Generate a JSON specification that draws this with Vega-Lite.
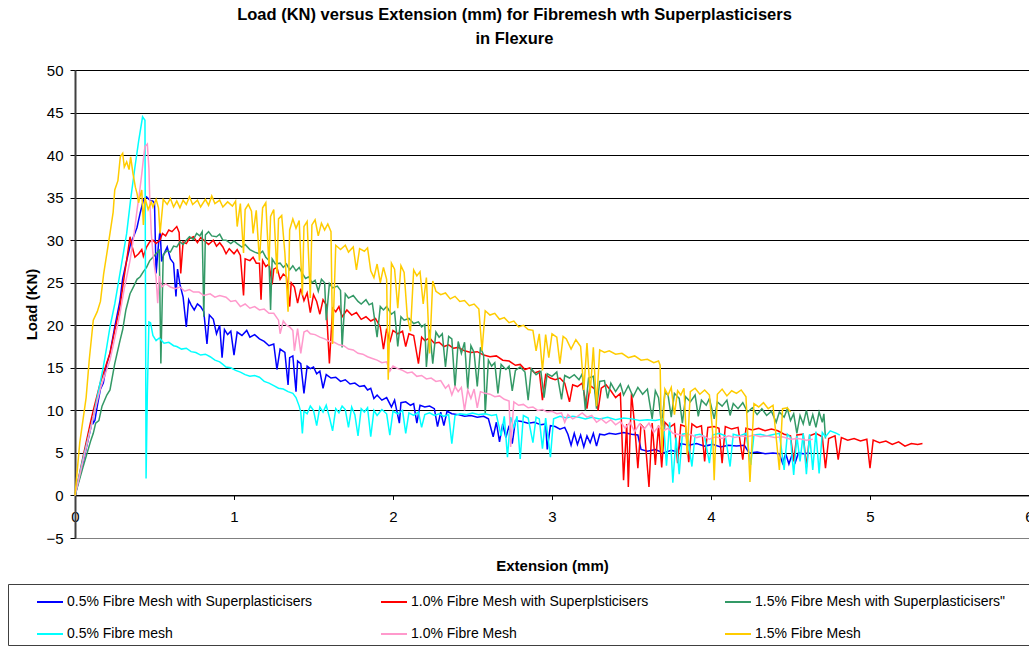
{
"$schema":"https://vega.github.io/schema/vega-lite/v6.json",
"width":954,"height":468,
"autosize":{"type":"none"},
"padding":{"left":75,"top":70,"right":0,"bottom":109},
"background":"white",
"config":{"view":{"stroke":"#808080","strokeWidth":1},"font":"Liberation Sans"},
"title":{"text":["Load (KN) versus Extension (mm) for Fibremesh wth Superplasticisers","in Flexure"],"font":"Liberation Sans","fontSize":16.5,"fontWeight":"bold","color":"#000","anchor":"middle","dx":-37.5,"offset":16,"lineHeight":24},
"data":{"values":[
{"s":"a","x":0,"y":0},{"s":"a","x":0.05,"y":3.8},{"s":"a","x":0.1,"y":8},{"s":"a","x":0.11,"y":9.2},{"s":"a","x":0.115,"y":8.5},{"s":"a","x":0.125,"y":8.8},{"s":"a","x":0.14,"y":10.5},{"s":"a","x":0.16,"y":12.5},{"s":"a","x":0.178,"y":13.2},{"s":"a","x":0.2,"y":15.5},{"s":"a","x":0.22,"y":16.7},{"s":"a","x":0.25,"y":19.8},{"s":"a","x":0.283,"y":22.9},{"s":"a","x":0.3,"y":25.5},{"s":"a","x":0.325,"y":27.6},{"s":"a","x":0.35,"y":29.6},{"s":"a","x":0.37,"y":30.5},{"s":"a","x":0.39,"y":31.5},{"s":"a","x":0.41,"y":33.2},{"s":"a","x":0.43,"y":34.7},{"s":"a","x":0.45,"y":35.1},{"s":"a","x":0.47,"y":34.7},{"s":"a","x":0.49,"y":34.6},{"s":"a","x":0.5,"y":34.3},{"s":"a","x":0.51,"y":26.1},{"s":"a","x":0.525,"y":29.5},{"s":"a","x":0.535,"y":31.2},{"s":"a","x":0.545,"y":27.5},{"s":"a","x":0.56,"y":28.4},{"s":"a","x":0.58,"y":29.2},{"s":"a","x":0.6,"y":27.8},{"s":"a","x":0.62,"y":27.3},{"s":"a","x":0.635,"y":23.4},{"s":"a","x":0.645,"y":26.6},{"s":"a","x":0.66,"y":24.8},{"s":"a","x":0.68,"y":23.3},{"s":"a","x":0.7,"y":19.8},{"s":"a","x":0.715,"y":23},{"s":"a","x":0.73,"y":22.4},{"s":"a","x":0.75,"y":21.8},{"s":"a","x":0.77,"y":22.5},{"s":"a","x":0.79,"y":22.2},{"s":"a","x":0.81,"y":21.6},{"s":"a","x":0.83,"y":17.8},{"s":"a","x":0.845,"y":21.2},{"s":"a","x":0.87,"y":20.7},{"s":"a","x":0.89,"y":19},{"s":"a","x":0.91,"y":20},{"s":"a","x":0.925,"y":16.2},{"s":"a","x":0.94,"y":19.5},{"s":"a","x":0.96,"y":18.9},{"s":"a","x":0.98,"y":19.3},{"s":"a","x":1,"y":16.5},{"s":"a","x":1.02,"y":19.2},{"s":"a","x":1.05,"y":18.8},{"s":"a","x":1.08,"y":19.4},{"s":"a","x":1.1,"y":18.6},{"s":"a","x":1.13,"y":18.9},{"s":"a","x":1.16,"y":18.4},{"s":"a","x":1.19,"y":18.1},{"s":"a","x":1.22,"y":17.6},{"s":"a","x":1.25,"y":17.8},{"s":"a","x":1.27,"y":14.8},{"s":"a","x":1.29,"y":17.2},{"s":"a","x":1.32,"y":16.8},{"s":"a","x":1.34,"y":13},{"s":"a","x":1.35,"y":16.2},{"s":"a","x":1.37,"y":16.4},{"s":"a","x":1.39,"y":12.2},{"s":"a","x":1.4,"y":15.8},{"s":"a","x":1.42,"y":15.5},{"s":"a","x":1.44,"y":12},{"s":"a","x":1.46,"y":15.2},{"s":"a","x":1.48,"y":14.9},{"s":"a","x":1.5,"y":15.1},{"s":"a","x":1.52,"y":14.3},{"s":"a","x":1.54,"y":14.6},{"s":"a","x":1.56,"y":12.6},{"s":"a","x":1.58,"y":14.2},{"s":"a","x":1.61,"y":13.8},{"s":"a","x":1.64,"y":13.9},{"s":"a","x":1.67,"y":13.4},{"s":"a","x":1.7,"y":13.6},{"s":"a","x":1.73,"y":13.1},{"s":"a","x":1.76,"y":13.2},{"s":"a","x":1.79,"y":12.8},{"s":"a","x":1.82,"y":12.9},{"s":"a","x":1.84,"y":12.4},{"s":"a","x":1.86,"y":12.6},{"s":"a","x":1.88,"y":11.4},{"s":"a","x":1.9,"y":11.8},{"s":"a","x":1.93,"y":11.2},{"s":"a","x":1.96,"y":11.5},{"s":"a","x":1.99,"y":10.4},{"s":"a","x":2.01,"y":11.2},{"s":"a","x":2.04,"y":8.5},{"s":"a","x":2.05,"y":10.9},{"s":"a","x":2.08,"y":11},{"s":"a","x":2.11,"y":10.6},{"s":"a","x":2.13,"y":10.8},{"s":"a","x":2.15,"y":8.5},{"s":"a","x":2.17,"y":10.6},{"s":"a","x":2.2,"y":10.4},{"s":"a","x":2.23,"y":10.5},{"s":"a","x":2.26,"y":10.2},{"s":"a","x":2.28,"y":8.1},{"s":"a","x":2.3,"y":9.8},{"s":"a","x":2.32,"y":8.2},{"s":"a","x":2.34,"y":9.9},{"s":"a","x":2.37,"y":9.6},{"s":"a","x":2.41,"y":9.5},{"s":"a","x":2.45,"y":9.3},{"s":"a","x":2.49,"y":9.4},{"s":"a","x":2.53,"y":9.2},{"s":"a","x":2.57,"y":9.3},{"s":"a","x":2.6,"y":9},{"s":"a","x":2.63,"y":6.9},{"s":"a","x":2.65,"y":8.6},{"s":"a","x":2.67,"y":6.3},{"s":"a","x":2.69,"y":8.4},{"s":"a","x":2.71,"y":6.8},{"s":"a","x":2.73,"y":8.2},{"s":"a","x":2.75,"y":6.1},{"s":"a","x":2.77,"y":8.8},{"s":"a","x":2.81,"y":8.7},{"s":"a","x":2.85,"y":8.5},{"s":"a","x":2.89,"y":8.6},{"s":"a","x":2.93,"y":8.3},{"s":"a","x":2.96,"y":8.4},{"s":"a","x":2.97,"y":5.4},{"s":"a","x":2.99,"y":8.2},{"s":"a","x":3.02,"y":8.1},{"s":"a","x":3.05,"y":7.8},{"s":"a","x":3.08,"y":8},{"s":"a","x":3.1,"y":7.2},{"s":"a","x":3.12,"y":5.9},{"s":"a","x":3.14,"y":7.3},{"s":"a","x":3.16,"y":6},{"s":"a","x":3.18,"y":7.1},{"s":"a","x":3.2,"y":5.7},{"s":"a","x":3.22,"y":7},{"s":"a","x":3.24,"y":6.2},{"s":"a","x":3.26,"y":7.3},{"s":"a","x":3.28,"y":5.8},{"s":"a","x":3.3,"y":7.2},{"s":"a","x":3.33,"y":7.1},{"s":"a","x":3.36,"y":7.3},{"s":"a","x":3.4,"y":7.2},{"s":"a","x":3.45,"y":7.4},{"s":"a","x":3.5,"y":7.2},{"s":"a","x":3.54,"y":7.1},{"s":"a","x":3.56,"y":5.4},{"s":"a","x":3.6,"y":5.2},{"s":"a","x":3.65,"y":5.4},{"s":"a","x":3.7,"y":5},{"s":"a","x":3.75,"y":5.3},{"s":"a","x":3.79,"y":5.1},{"s":"a","x":3.81,"y":6.1},{"s":"a","x":3.86,"y":5.9},{"s":"a","x":3.91,"y":6.1},{"s":"a","x":3.96,"y":5.8},{"s":"a","x":4.01,"y":6},{"s":"a","x":4.06,"y":5.7},{"s":"a","x":4.11,"y":5.9},{"s":"a","x":4.16,"y":5.8},{"s":"a","x":4.21,"y":5.9},{"s":"a","x":4.24,"y":5},{"s":"a","x":4.29,"y":5.1},{"s":"a","x":4.34,"y":4.9},{"s":"a","x":4.39,"y":5},{"s":"a","x":4.43,"y":4.9},{"s":"a","x":4.45,"y":3.8},{"s":"a","x":4.47,"y":4.9},{"s":"a","x":4.49,"y":3.7},{"s":"a","x":4.51,"y":4.8},{"s":"a","x":4.53,"y":3.9},{"s":"a","x":4.55,"y":5},{"s":"a","x":4.58,"y":4.9},{"s":"a","x":4.62,"y":5},
{"s":"b","x":0,"y":0},{"s":"b","x":0.05,"y":4.5},{"s":"b","x":0.1,"y":8.8},{"s":"b","x":0.115,"y":10},{"s":"b","x":0.16,"y":13.3},{"s":"b","x":0.22,"y":16.7},{"s":"b","x":0.25,"y":19.4},{"s":"b","x":0.283,"y":22.2},{"s":"b","x":0.31,"y":25.8},{"s":"b","x":0.33,"y":28.3},{"s":"b","x":0.346,"y":30.4},{"s":"b","x":0.36,"y":29.2},{"s":"b","x":0.377,"y":28},{"s":"b","x":0.4,"y":28.4},{"s":"b","x":0.42,"y":28.9},{"s":"b","x":0.43,"y":28.1},{"s":"b","x":0.45,"y":29.2},{"s":"b","x":0.47,"y":29.8},{"s":"b","x":0.49,"y":30},{"s":"b","x":0.51,"y":29.6},{"s":"b","x":0.535,"y":30},{"s":"b","x":0.55,"y":30.8},{"s":"b","x":0.57,"y":30.5},{"s":"b","x":0.59,"y":31.2},{"s":"b","x":0.61,"y":31},{"s":"b","x":0.64,"y":31.6},{"s":"b","x":0.655,"y":30.9},{"s":"b","x":0.665,"y":26.1},{"s":"b","x":0.68,"y":29.8},{"s":"b","x":0.7,"y":29.6},{"s":"b","x":0.72,"y":30.2},{"s":"b","x":0.745,"y":30.4},{"s":"b","x":0.77,"y":29.7},{"s":"b","x":0.79,"y":30.3},{"s":"b","x":0.81,"y":30},{"s":"b","x":0.84,"y":29.5},{"s":"b","x":0.87,"y":30},{"s":"b","x":0.89,"y":29.3},{"s":"b","x":0.91,"y":29.7},{"s":"b","x":0.93,"y":29.2},{"s":"b","x":0.95,"y":28.4},{"s":"b","x":0.97,"y":29},{"s":"b","x":1,"y":28.4},{"s":"b","x":1.02,"y":28.9},{"s":"b","x":1.04,"y":28.2},{"s":"b","x":1.06,"y":23.5},{"s":"b","x":1.07,"y":27.8},{"s":"b","x":1.1,"y":27.6},{"s":"b","x":1.12,"y":28},{"s":"b","x":1.14,"y":27.3},{"s":"b","x":1.16,"y":27.3},{"s":"b","x":1.17,"y":23},{"s":"b","x":1.18,"y":27.6},{"s":"b","x":1.2,"y":26.9},{"s":"b","x":1.22,"y":27.2},{"s":"b","x":1.24,"y":24.8},{"s":"b","x":1.25,"y":26.6},{"s":"b","x":1.27,"y":26.8},{"s":"b","x":1.29,"y":25.4},{"s":"b","x":1.31,"y":26},{"s":"b","x":1.33,"y":25.7},{"s":"b","x":1.35,"y":22.2},{"s":"b","x":1.36,"y":25},{"s":"b","x":1.38,"y":24.5},{"s":"b","x":1.4,"y":22.6},{"s":"b","x":1.42,"y":24.3},{"s":"b","x":1.44,"y":22.9},{"s":"b","x":1.46,"y":23.8},{"s":"b","x":1.48,"y":21.5},{"s":"b","x":1.5,"y":23.6},{"s":"b","x":1.52,"y":22.8},{"s":"b","x":1.54,"y":21.3},{"s":"b","x":1.56,"y":23},{"s":"b","x":1.58,"y":22.4},{"s":"b","x":1.6,"y":15.5},{"s":"b","x":1.62,"y":22},{"s":"b","x":1.64,"y":21.6},{"s":"b","x":1.66,"y":22.2},{"s":"b","x":1.68,"y":21},{"s":"b","x":1.71,"y":21.8},{"s":"b","x":1.74,"y":21.2},{"s":"b","x":1.77,"y":21.5},{"s":"b","x":1.8,"y":20.7},{"s":"b","x":1.83,"y":21},{"s":"b","x":1.86,"y":20.5},{"s":"b","x":1.89,"y":20.8},{"s":"b","x":1.92,"y":19.8},{"s":"b","x":1.94,"y":17.2},{"s":"b","x":1.96,"y":19.6},{"s":"b","x":1.98,"y":18},{"s":"b","x":2,"y":19.4},{"s":"b","x":2.03,"y":19},{"s":"b","x":2.06,"y":19.3},{"s":"b","x":2.08,"y":17.5},{"s":"b","x":2.1,"y":19},{"s":"b","x":2.13,"y":18.8},{"s":"b","x":2.16,"y":15.5},{"s":"b","x":2.18,"y":18.6},{"s":"b","x":2.2,"y":18.2},{"s":"b","x":2.23,"y":18.5},{"s":"b","x":2.26,"y":17.9},{"s":"b","x":2.29,"y":18},{"s":"b","x":2.32,"y":17.5},{"s":"b","x":2.35,"y":17.7},{"s":"b","x":2.38,"y":17.3},{"s":"b","x":2.41,"y":17.4},{"s":"b","x":2.45,"y":17},{"s":"b","x":2.49,"y":16.8},{"s":"b","x":2.53,"y":16.9},{"s":"b","x":2.57,"y":16.5},{"s":"b","x":2.61,"y":16.3},{"s":"b","x":2.65,"y":16.4},{"s":"b","x":2.69,"y":15.9},{"s":"b","x":2.73,"y":15.8},{"s":"b","x":2.77,"y":15.3},{"s":"b","x":2.8,"y":15.4},{"s":"b","x":2.83,"y":14.8},{"s":"b","x":2.86,"y":15},{"s":"b","x":2.89,"y":14.4},{"s":"b","x":2.92,"y":14.6},{"s":"b","x":2.94,"y":11.2},{"s":"b","x":2.96,"y":14.2},{"s":"b","x":2.99,"y":13.8},{"s":"b","x":3.02,"y":13.6},{"s":"b","x":3.05,"y":13.8},{"s":"b","x":3.08,"y":13.2},{"s":"b","x":3.11,"y":11},{"s":"b","x":3.13,"y":13},{"s":"b","x":3.16,"y":12.8},{"s":"b","x":3.19,"y":13.2},{"s":"b","x":3.22,"y":10.2},{"s":"b","x":3.24,"y":12.9},{"s":"b","x":3.27,"y":12.5},{"s":"b","x":3.29,"y":10},{"s":"b","x":3.31,"y":12.6},{"s":"b","x":3.34,"y":13},{"s":"b","x":3.37,"y":12.3},{"s":"b","x":3.4,"y":11.5},{"s":"b","x":3.43,"y":12},{"s":"b","x":3.45,"y":1.8},{"s":"b","x":3.47,"y":8.4},{"s":"b","x":3.48,"y":1},{"s":"b","x":3.5,"y":12},{"s":"b","x":3.52,"y":8.2},{"s":"b","x":3.54,"y":3.2},{"s":"b","x":3.56,"y":8.3},{"s":"b","x":3.58,"y":7.9},{"s":"b","x":3.61,"y":1},{"s":"b","x":3.63,"y":8.5},{"s":"b","x":3.65,"y":3.6},{"s":"b","x":3.67,"y":8.2},{"s":"b","x":3.69,"y":3.3},{"s":"b","x":3.71,"y":8.6},{"s":"b","x":3.74,"y":8},{"s":"b","x":3.77,"y":8.4},{"s":"b","x":3.79,"y":3.8},{"s":"b","x":3.81,"y":8.3},{"s":"b","x":3.84,"y":8.1},{"s":"b","x":3.86,"y":3.9},{"s":"b","x":3.88,"y":8.4},{"s":"b","x":3.91,"y":8},{"s":"b","x":3.94,"y":8.2},{"s":"b","x":3.96,"y":4},{"s":"b","x":3.98,"y":8},{"s":"b","x":4.02,"y":8.1},{"s":"b","x":4.05,"y":7.9},{"s":"b","x":4.07,"y":3.8},{"s":"b","x":4.09,"y":8.1},{"s":"b","x":4.13,"y":7.8},{"s":"b","x":4.17,"y":8},{"s":"b","x":4.2,"y":4.2},{"s":"b","x":4.22,"y":7.9},{"s":"b","x":4.26,"y":7.7},{"s":"b","x":4.3,"y":7.9},{"s":"b","x":4.34,"y":7.6},{"s":"b","x":4.38,"y":7.8},{"s":"b","x":4.42,"y":7.6},{"s":"b","x":4.46,"y":7.2},{"s":"b","x":4.5,"y":7},{"s":"b","x":4.52,"y":4},{"s":"b","x":4.54,"y":7.1},{"s":"b","x":4.58,"y":7.2},{"s":"b","x":4.6,"y":3.3},{"s":"b","x":4.62,"y":7},{"s":"b","x":4.66,"y":7.3},{"s":"b","x":4.7,"y":6.9},{"s":"b","x":4.72,"y":3.2},{"s":"b","x":4.74,"y":6.7},{"s":"b","x":4.78,"y":7},{"s":"b","x":4.8,"y":4.2},{"s":"b","x":4.82,"y":6.8},{"s":"b","x":4.86,"y":6.5},{"s":"b","x":4.9,"y":6.7},{"s":"b","x":4.94,"y":6.4},{"s":"b","x":4.98,"y":6.6},{"s":"b","x":5,"y":3.2},{"s":"b","x":5.02,"y":6.5},{"s":"b","x":5.06,"y":6.2},{"s":"b","x":5.1,"y":6.4},{"s":"b","x":5.14,"y":6},{"s":"b","x":5.18,"y":6.3},{"s":"b","x":5.22,"y":5.8},{"s":"b","x":5.26,"y":6.1},{"s":"b","x":5.3,"y":6},{"s":"b","x":5.33,"y":6.1},
{"s":"c","x":0,"y":0},{"s":"c","x":0.05,"y":3.3},{"s":"c","x":0.1,"y":6.5},{"s":"c","x":0.115,"y":7.3},{"s":"c","x":0.13,"y":8.5},{"s":"c","x":0.15,"y":8.8},{"s":"c","x":0.17,"y":10.5},{"s":"c","x":0.2,"y":11.8},{"s":"c","x":0.22,"y":12.4},{"s":"c","x":0.25,"y":15.5},{"s":"c","x":0.283,"y":18.2},{"s":"c","x":0.3,"y":19.5},{"s":"c","x":0.32,"y":21.8},{"s":"c","x":0.346,"y":23.7},{"s":"c","x":0.37,"y":24.6},{"s":"c","x":0.39,"y":25.4},{"s":"c","x":0.41,"y":25.7},{"s":"c","x":0.43,"y":26.3},{"s":"c","x":0.45,"y":26.8},{"s":"c","x":0.47,"y":27.6},{"s":"c","x":0.49,"y":28},{"s":"c","x":0.51,"y":28.4},{"s":"c","x":0.53,"y":28.8},{"s":"c","x":0.54,"y":15.5},{"s":"c","x":0.555,"y":28.3},{"s":"c","x":0.58,"y":28.8},{"s":"c","x":0.6,"y":28.6},{"s":"c","x":0.62,"y":29.3},{"s":"c","x":0.64,"y":29.2},{"s":"c","x":0.66,"y":29.8},{"s":"c","x":0.68,"y":29.5},{"s":"c","x":0.7,"y":30},{"s":"c","x":0.72,"y":30.4},{"s":"c","x":0.745,"y":30.1},{"s":"c","x":0.765,"y":30.8},{"s":"c","x":0.785,"y":30.5},{"s":"c","x":0.8,"y":31},{"s":"c","x":0.81,"y":21},{"s":"c","x":0.82,"y":30.6},{"s":"c","x":0.84,"y":31},{"s":"c","x":0.86,"y":30.5},{"s":"c","x":0.89,"y":30.4},{"s":"c","x":0.91,"y":30.7},{"s":"c","x":0.93,"y":30},{"s":"c","x":0.95,"y":30},{"s":"c","x":0.98,"y":29.6},{"s":"c","x":1,"y":29.9},{"s":"c","x":1.02,"y":29.6},{"s":"c","x":1.05,"y":29.2},{"s":"c","x":1.07,"y":29.5},{"s":"c","x":1.1,"y":28.9},{"s":"c","x":1.13,"y":28.6},{"s":"c","x":1.16,"y":28.4},{"s":"c","x":1.18,"y":28.7},{"s":"c","x":1.2,"y":28},{"s":"c","x":1.22,"y":27.6},{"s":"c","x":1.23,"y":21.8},{"s":"c","x":1.24,"y":27.8},{"s":"c","x":1.26,"y":27.2},{"s":"c","x":1.29,"y":27.3},{"s":"c","x":1.31,"y":26.8},{"s":"c","x":1.33,"y":27.2},{"s":"c","x":1.35,"y":26.5},{"s":"c","x":1.37,"y":27},{"s":"c","x":1.39,"y":26.4},{"s":"c","x":1.41,"y":26.8},{"s":"c","x":1.43,"y":26.1},{"s":"c","x":1.45,"y":25.5},{"s":"c","x":1.47,"y":25.7},{"s":"c","x":1.49,"y":25},{"s":"c","x":1.51,"y":25.3},{"s":"c","x":1.53,"y":24},{"s":"c","x":1.55,"y":25.4},{"s":"c","x":1.57,"y":25},{"s":"c","x":1.58,"y":20.6},{"s":"c","x":1.6,"y":24.9},{"s":"c","x":1.62,"y":24.4},{"s":"c","x":1.65,"y":24.6},{"s":"c","x":1.67,"y":24.1},{"s":"c","x":1.68,"y":17.4},{"s":"c","x":1.7,"y":23.7},{"s":"c","x":1.72,"y":23.2},{"s":"c","x":1.75,"y":23.5},{"s":"c","x":1.78,"y":22.8},{"s":"c","x":1.8,"y":22.5},{"s":"c","x":1.83,"y":23},{"s":"c","x":1.85,"y":22.4},{"s":"c","x":1.87,"y":22.6},{"s":"c","x":1.9,"y":18.6},{"s":"c","x":1.92,"y":22.2},{"s":"c","x":1.94,"y":21.8},{"s":"c","x":1.96,"y":22.2},{"s":"c","x":1.99,"y":21.3},{"s":"c","x":2.01,"y":21.6},{"s":"c","x":2.03,"y":17.5},{"s":"c","x":2.05,"y":21},{"s":"c","x":2.07,"y":20.6},{"s":"c","x":2.1,"y":20.8},{"s":"c","x":2.13,"y":20.2},{"s":"c","x":2.16,"y":20.4},{"s":"c","x":2.18,"y":19.8},{"s":"c","x":2.2,"y":20.1},{"s":"c","x":2.21,"y":15.1},{"s":"c","x":2.23,"y":19.5},{"s":"c","x":2.25,"y":15.5},{"s":"c","x":2.27,"y":19.2},{"s":"c","x":2.29,"y":18.6},{"s":"c","x":2.31,"y":19},{"s":"c","x":2.33,"y":15.1},{"s":"c","x":2.35,"y":18.7},{"s":"c","x":2.37,"y":18.4},{"s":"c","x":2.39,"y":12.7},{"s":"c","x":2.41,"y":18.1},{"s":"c","x":2.43,"y":16.7},{"s":"c","x":2.45,"y":18},{"s":"c","x":2.47,"y":12.5},{"s":"c","x":2.49,"y":17.6},{"s":"c","x":2.51,"y":16.8},{"s":"c","x":2.53,"y":12.8},{"s":"c","x":2.55,"y":17.4},{"s":"c","x":2.57,"y":16.5},{"s":"c","x":2.58,"y":9.6},{"s":"c","x":2.6,"y":15.9},{"s":"c","x":2.62,"y":15.2},{"s":"c","x":2.64,"y":15.6},{"s":"c","x":2.66,"y":12},{"s":"c","x":2.68,"y":15.4},{"s":"c","x":2.71,"y":14.8},{"s":"c","x":2.73,"y":15.2},{"s":"c","x":2.75,"y":12.3},{"s":"c","x":2.77,"y":14.7},{"s":"c","x":2.8,"y":15.1},{"s":"c","x":2.83,"y":14.5},{"s":"c","x":2.85,"y":11.2},{"s":"c","x":2.87,"y":14.9},{"s":"c","x":2.9,"y":14.2},{"s":"c","x":2.93,"y":14.6},{"s":"c","x":2.95,"y":11.5},{"s":"c","x":2.97,"y":14.3},{"s":"c","x":3,"y":14},{"s":"c","x":3.03,"y":14.5},{"s":"c","x":3.06,"y":11.3},{"s":"c","x":3.08,"y":14.1},{"s":"c","x":3.11,"y":13.8},{"s":"c","x":3.14,"y":14.2},{"s":"c","x":3.17,"y":13.6},{"s":"c","x":3.19,"y":14.3},{"s":"c","x":3.21,"y":10},{"s":"c","x":3.23,"y":13.8},{"s":"c","x":3.26,"y":14},{"s":"c","x":3.28,"y":10.2},{"s":"c","x":3.3,"y":13.4},{"s":"c","x":3.33,"y":13.5},{"s":"c","x":3.35,"y":11.4},{"s":"c","x":3.37,"y":13.2},{"s":"c","x":3.4,"y":12.2},{"s":"c","x":3.43,"y":13.1},{"s":"c","x":3.45,"y":11.8},{"s":"c","x":3.48,"y":12.9},{"s":"c","x":3.51,"y":11.6},{"s":"c","x":3.54,"y":12.7},{"s":"c","x":3.57,"y":11.9},{"s":"c","x":3.6,"y":12.5},{"s":"c","x":3.63,"y":9},{"s":"c","x":3.65,"y":12.3},{"s":"c","x":3.67,"y":11.5},{"s":"c","x":3.69,"y":8.1},{"s":"c","x":3.71,"y":12.1},{"s":"c","x":3.73,"y":11.8},{"s":"c","x":3.75,"y":9.2},{"s":"c","x":3.77,"y":12},{"s":"c","x":3.8,"y":11.4},{"s":"c","x":3.82,"y":8.5},{"s":"c","x":3.84,"y":11.6},{"s":"c","x":3.87,"y":11},{"s":"c","x":3.9,"y":11.8},{"s":"c","x":3.92,"y":9.3},{"s":"c","x":3.94,"y":11.2},{"s":"c","x":3.97,"y":10.6},{"s":"c","x":3.99,"y":11.4},{"s":"c","x":4.02,"y":9},{"s":"c","x":4.04,"y":11},{"s":"c","x":4.07,"y":10.5},{"s":"c","x":4.1,"y":11.2},{"s":"c","x":4.12,"y":9.4},{"s":"c","x":4.14,"y":10.8},{"s":"c","x":4.17,"y":10.2},{"s":"c","x":4.2,"y":10.9},{"s":"c","x":4.23,"y":9.8},{"s":"c","x":4.26,"y":10.3},{"s":"c","x":4.29,"y":9.5},{"s":"c","x":4.32,"y":10.2},{"s":"c","x":4.35,"y":9.4},{"s":"c","x":4.38,"y":9.9},{"s":"c","x":4.41,"y":8.6},{"s":"c","x":4.43,"y":9.8},{"s":"c","x":4.46,"y":9.2},{"s":"c","x":4.48,"y":10.2},{"s":"c","x":4.5,"y":8.8},{"s":"c","x":4.52,"y":9.6},{"s":"c","x":4.54,"y":7.3},{"s":"c","x":4.56,"y":9.4},{"s":"c","x":4.58,"y":8.4},{"s":"c","x":4.6,"y":10},{"s":"c","x":4.62,"y":8.2},{"s":"c","x":4.64,"y":9.5},{"s":"c","x":4.66,"y":8},{"s":"c","x":4.68,"y":9.8},{"s":"c","x":4.7,"y":8.6},{"s":"c","x":4.71,"y":9.6},{"s":"c","x":4.72,"y":6.7},
{"s":"d","x":0,"y":0},{"s":"d","x":0.05,"y":4.3},{"s":"d","x":0.115,"y":9.2},{"s":"d","x":0.15,"y":12.5},{"s":"d","x":0.178,"y":15.1},{"s":"d","x":0.2,"y":17.5},{"s":"d","x":0.22,"y":19.8},{"s":"d","x":0.25,"y":22.5},{"s":"d","x":0.272,"y":24.9},{"s":"d","x":0.3,"y":28},{"s":"d","x":0.325,"y":30.8},{"s":"d","x":0.35,"y":34.8},{"s":"d","x":0.377,"y":38.6},{"s":"d","x":0.4,"y":41.6},{"s":"d","x":0.425,"y":44.5},{"s":"d","x":0.44,"y":44.1},{"s":"d","x":0.447,"y":2},{"s":"d","x":0.455,"y":12},{"s":"d","x":0.465,"y":20.4},{"s":"d","x":0.475,"y":20.3},{"s":"d","x":0.49,"y":18.8},{"s":"d","x":0.51,"y":18.2},{"s":"d","x":0.53,"y":18.5},{"s":"d","x":0.56,"y":17.9},{"s":"d","x":0.59,"y":18},{"s":"d","x":0.62,"y":17.6},{"s":"d","x":0.64,"y":17.5},{"s":"d","x":0.67,"y":17.2},{"s":"d","x":0.7,"y":17.3},{"s":"d","x":0.73,"y":16.9},{"s":"d","x":0.76,"y":16.8},{"s":"d","x":0.79,"y":16.5},{"s":"d","x":0.82,"y":16.6},{"s":"d","x":0.85,"y":16.3},{"s":"d","x":0.88,"y":15.9},{"s":"d","x":0.91,"y":15.7},{"s":"d","x":0.93,"y":15.4},{"s":"d","x":0.95,"y":15.1},{"s":"d","x":0.98,"y":15},{"s":"d","x":1.01,"y":14.7},{"s":"d","x":1.04,"y":14.5},{"s":"d","x":1.07,"y":14.2},{"s":"d","x":1.1,"y":14},{"s":"d","x":1.13,"y":14.1},{"s":"d","x":1.16,"y":13.9},{"s":"d","x":1.19,"y":13.4},{"s":"d","x":1.22,"y":13.2},{"s":"d","x":1.25,"y":12.9},{"s":"d","x":1.28,"y":12.6},{"s":"d","x":1.31,"y":12.5},{"s":"d","x":1.34,"y":12.2},{"s":"d","x":1.37,"y":12},{"s":"d","x":1.39,"y":11.5},{"s":"d","x":1.41,"y":10.5},{"s":"d","x":1.42,"y":9.8},{"s":"d","x":1.43,"y":7.3},{"s":"d","x":1.44,"y":9.9},{"s":"d","x":1.46,"y":9.6},{"s":"d","x":1.48,"y":10.5},{"s":"d","x":1.5,"y":10},{"s":"d","x":1.52,"y":8.2},{"s":"d","x":1.54,"y":10.4},{"s":"d","x":1.56,"y":9.8},{"s":"d","x":1.58,"y":10.6},{"s":"d","x":1.6,"y":9.2},{"s":"d","x":1.62,"y":7.6},{"s":"d","x":1.64,"y":10.2},{"s":"d","x":1.66,"y":9.7},{"s":"d","x":1.68,"y":10.5},{"s":"d","x":1.7,"y":10.1},{"s":"d","x":1.72,"y":8},{"s":"d","x":1.74,"y":10.4},{"s":"d","x":1.76,"y":9.5},{"s":"d","x":1.78,"y":7},{"s":"d","x":1.8,"y":10.2},{"s":"d","x":1.82,"y":9.8},{"s":"d","x":1.84,"y":10.3},{"s":"d","x":1.86,"y":6.9},{"s":"d","x":1.88,"y":10},{"s":"d","x":1.9,"y":9.4},{"s":"d","x":1.93,"y":10.1},{"s":"d","x":1.96,"y":9.6},{"s":"d","x":1.98,"y":7.1},{"s":"d","x":2,"y":9.9},{"s":"d","x":2.03,"y":9.6},{"s":"d","x":2.06,"y":10},{"s":"d","x":2.08,"y":7.3},{"s":"d","x":2.1,"y":9.7},{"s":"d","x":2.13,"y":9.4},{"s":"d","x":2.16,"y":9.8},{"s":"d","x":2.18,"y":8},{"s":"d","x":2.2,"y":9.5},{"s":"d","x":2.23,"y":9.7},{"s":"d","x":2.26,"y":9.4},{"s":"d","x":2.29,"y":9.6},{"s":"d","x":2.32,"y":9.3},{"s":"d","x":2.35,"y":9.5},{"s":"d","x":2.37,"y":6.1},{"s":"d","x":2.39,"y":9.4},{"s":"d","x":2.42,"y":9.6},{"s":"d","x":2.46,"y":9.5},{"s":"d","x":2.5,"y":9.7},{"s":"d","x":2.54,"y":9.5},{"s":"d","x":2.58,"y":9.6},{"s":"d","x":2.62,"y":9.4},{"s":"d","x":2.65,"y":9.5},{"s":"d","x":2.68,"y":7},{"s":"d","x":2.7,"y":9.3},{"s":"d","x":2.72,"y":4.5},{"s":"d","x":2.74,"y":9.2},{"s":"d","x":2.76,"y":8},{"s":"d","x":2.78,"y":9.3},{"s":"d","x":2.8,"y":4.3},{"s":"d","x":2.82,"y":9.4},{"s":"d","x":2.85,"y":9.1},{"s":"d","x":2.88,"y":6.2},{"s":"d","x":2.9,"y":9.2},{"s":"d","x":2.92,"y":9},{"s":"d","x":2.94,"y":5.5},{"s":"d","x":2.96,"y":9.1},{"s":"d","x":2.99,"y":4.5},{"s":"d","x":3.01,"y":9},{"s":"d","x":3.05,"y":9.3},{"s":"d","x":3.09,"y":9.1},{"s":"d","x":3.13,"y":9.3},{"s":"d","x":3.17,"y":9.2},{"s":"d","x":3.21,"y":9},{"s":"d","x":3.25,"y":9.2},{"s":"d","x":3.3,"y":9},{"s":"d","x":3.35,"y":9.2},{"s":"d","x":3.4,"y":8.9},{"s":"d","x":3.45,"y":9.1},{"s":"d","x":3.5,"y":9},{"s":"d","x":3.55,"y":8.8},{"s":"d","x":3.6,"y":8.9},{"s":"d","x":3.65,"y":8.8},{"s":"d","x":3.7,"y":9},{"s":"d","x":3.72,"y":3.5},{"s":"d","x":3.74,"y":8.6},{"s":"d","x":3.76,"y":1.5},{"s":"d","x":3.78,"y":6.8},{"s":"d","x":3.8,"y":2.5},{"s":"d","x":3.82,"y":7.2},{"s":"d","x":3.85,"y":7.3},{"s":"d","x":3.88,"y":3.4},{"s":"d","x":3.9,"y":7.1},{"s":"d","x":3.93,"y":7.2},{"s":"d","x":3.96,"y":6.9},{"s":"d","x":3.99,"y":3.8},{"s":"d","x":4.01,"y":7.1},{"s":"d","x":4.05,"y":7.3},{"s":"d","x":4.09,"y":7},{"s":"d","x":4.12,"y":3.4},{"s":"d","x":4.14,"y":7.2},{"s":"d","x":4.18,"y":7},{"s":"d","x":4.22,"y":7.3},{"s":"d","x":4.25,"y":3.6},{"s":"d","x":4.27,"y":7.1},{"s":"d","x":4.31,"y":7.2},{"s":"d","x":4.35,"y":7},{"s":"d","x":4.4,"y":7.2},{"s":"d","x":4.43,"y":7.3},{"s":"d","x":4.46,"y":3},{"s":"d","x":4.48,"y":7.2},{"s":"d","x":4.5,"y":6.8},{"s":"d","x":4.52,"y":2.4},{"s":"d","x":4.54,"y":7},{"s":"d","x":4.56,"y":4},{"s":"d","x":4.58,"y":7.3},{"s":"d","x":4.6,"y":2.5},{"s":"d","x":4.62,"y":7.2},{"s":"d","x":4.64,"y":3},{"s":"d","x":4.66,"y":7.5},{"s":"d","x":4.68,"y":2.6},{"s":"d","x":4.7,"y":7.4},{"s":"d","x":4.72,"y":6.9},{"s":"d","x":4.75,"y":7.6},{"s":"d","x":4.79,"y":7.3},{"s":"d","x":4.81,"y":7.1},
{"s":"e","x":0,"y":0},{"s":"e","x":0.05,"y":4},{"s":"e","x":0.115,"y":9.2},{"s":"e","x":0.16,"y":12.6},{"s":"e","x":0.22,"y":15.9},{"s":"e","x":0.25,"y":18.5},{"s":"e","x":0.283,"y":21.4},{"s":"e","x":0.31,"y":24.3},{"s":"e","x":0.346,"y":27.6},{"s":"e","x":0.37,"y":30.5},{"s":"e","x":0.39,"y":33.5},{"s":"e","x":0.405,"y":35.5},{"s":"e","x":0.42,"y":37.8},{"s":"e","x":0.43,"y":39.5},{"s":"e","x":0.44,"y":41},{"s":"e","x":0.455,"y":41.3},{"s":"e","x":0.465,"y":38.4},{"s":"e","x":0.47,"y":35},{"s":"e","x":0.48,"y":30.8},{"s":"e","x":0.49,"y":28.5},{"s":"e","x":0.5,"y":26.9},{"s":"e","x":0.51,"y":25.6},{"s":"e","x":0.52,"y":22.6},{"s":"e","x":0.53,"y":25.8},{"s":"e","x":0.545,"y":24.5},{"s":"e","x":0.57,"y":24.9},{"s":"e","x":0.6,"y":24.5},{"s":"e","x":0.63,"y":24.3},{"s":"e","x":0.66,"y":24.5},{"s":"e","x":0.69,"y":24},{"s":"e","x":0.72,"y":24.2},{"s":"e","x":0.745,"y":23.9},{"s":"e","x":0.78,"y":23.9},{"s":"e","x":0.81,"y":23.5},{"s":"e","x":0.85,"y":23.7},{"s":"e","x":0.88,"y":23.3},{"s":"e","x":0.91,"y":23.5},{"s":"e","x":0.95,"y":23.3},{"s":"e","x":0.98,"y":22.8},{"s":"e","x":1.01,"y":22.9},{"s":"e","x":1.04,"y":22.2},{"s":"e","x":1.07,"y":22.5},{"s":"e","x":1.1,"y":22},{"s":"e","x":1.13,"y":22.2},{"s":"e","x":1.16,"y":21.8},{"s":"e","x":1.19,"y":21.9},{"s":"e","x":1.22,"y":21.4},{"s":"e","x":1.25,"y":21.4},{"s":"e","x":1.28,"y":20.6},{"s":"e","x":1.29,"y":19},{"s":"e","x":1.31,"y":20.5},{"s":"e","x":1.33,"y":20},{"s":"e","x":1.35,"y":19.8},{"s":"e","x":1.37,"y":19.4},{"s":"e","x":1.38,"y":17},{"s":"e","x":1.4,"y":19.6},{"s":"e","x":1.42,"y":16.7},{"s":"e","x":1.44,"y":19.2},{"s":"e","x":1.46,"y":19.4},{"s":"e","x":1.48,"y":19},{"s":"e","x":1.51,"y":18.9},{"s":"e","x":1.54,"y":18.6},{"s":"e","x":1.57,"y":18.4},{"s":"e","x":1.6,"y":18.1},{"s":"e","x":1.63,"y":18},{"s":"e","x":1.66,"y":17.7},{"s":"e","x":1.69,"y":17.6},{"s":"e","x":1.72,"y":17.2},{"s":"e","x":1.75,"y":17.1},{"s":"e","x":1.78,"y":16.7},{"s":"e","x":1.81,"y":16.6},{"s":"e","x":1.84,"y":16.3},{"s":"e","x":1.87,"y":16.1},{"s":"e","x":1.9,"y":15.9},{"s":"e","x":1.93,"y":15.6},{"s":"e","x":1.96,"y":15.7},{"s":"e","x":1.98,"y":14.6},{"s":"e","x":2,"y":15.2},{"s":"e","x":2.03,"y":14.9},{"s":"e","x":2.06,"y":14.7},{"s":"e","x":2.09,"y":14.4},{"s":"e","x":2.12,"y":14.5},{"s":"e","x":2.15,"y":14},{"s":"e","x":2.18,"y":14.1},{"s":"e","x":2.21,"y":13.7},{"s":"e","x":2.24,"y":13.8},{"s":"e","x":2.27,"y":13.4},{"s":"e","x":2.3,"y":13.5},{"s":"e","x":2.33,"y":12.6},{"s":"e","x":2.35,"y":13},{"s":"e","x":2.37,"y":11.8},{"s":"e","x":2.39,"y":12.8},{"s":"e","x":2.41,"y":12.2},{"s":"e","x":2.43,"y":12.7},{"s":"e","x":2.45,"y":10},{"s":"e","x":2.47,"y":12.4},{"s":"e","x":2.49,"y":11.4},{"s":"e","x":2.51,"y":12.5},{"s":"e","x":2.53,"y":10.3},{"s":"e","x":2.55,"y":12.2},{"s":"e","x":2.58,"y":12},{"s":"e","x":2.61,"y":11.9},{"s":"e","x":2.64,"y":11.6},{"s":"e","x":2.67,"y":11.7},{"s":"e","x":2.7,"y":11.3},{"s":"e","x":2.73,"y":11.1},{"s":"e","x":2.74,"y":5.7},{"s":"e","x":2.76,"y":11},{"s":"e","x":2.79,"y":10.6},{"s":"e","x":2.82,"y":10.7},{"s":"e","x":2.85,"y":10.3},{"s":"e","x":2.88,"y":10.4},{"s":"e","x":2.91,"y":10},{"s":"e","x":2.94,"y":10.1},{"s":"e","x":2.97,"y":9.8},{"s":"e","x":3,"y":9.9},{"s":"e","x":3.03,"y":9.6},{"s":"e","x":3.06,"y":9.7},{"s":"e","x":3.08,"y":8.6},{"s":"e","x":3.1,"y":9.5},{"s":"e","x":3.13,"y":9},{"s":"e","x":3.16,"y":9.3},{"s":"e","x":3.19,"y":9.7},{"s":"e","x":3.22,"y":9.2},{"s":"e","x":3.25,"y":9.4},{"s":"e","x":3.28,"y":8.6},{"s":"e","x":3.31,"y":9},{"s":"e","x":3.34,"y":8.5},{"s":"e","x":3.37,"y":8.9},{"s":"e","x":3.4,"y":8.3},{"s":"e","x":3.43,"y":8.7},{"s":"e","x":3.46,"y":7.9},{"s":"e","x":3.49,"y":8.6},{"s":"e","x":3.52,"y":7.5},{"s":"e","x":3.55,"y":8.4},{"s":"e","x":3.58,"y":7.8},{"s":"e","x":3.61,"y":8.5},{"s":"e","x":3.64,"y":7.4},{"s":"e","x":3.67,"y":8.1},{"s":"e","x":3.7,"y":7.6},{"s":"e","x":3.73,"y":7.9},{"s":"e","x":3.76,"y":7.3},{"s":"e","x":3.79,"y":7.2},{"s":"e","x":3.83,"y":7},{"s":"e","x":3.87,"y":7.2},{"s":"e","x":3.91,"y":6.8},{"s":"e","x":3.95,"y":7},{"s":"e","x":3.99,"y":6.6},{"s":"e","x":4.03,"y":6.9},{"s":"e","x":4.07,"y":6.7},{"s":"e","x":4.11,"y":7},{"s":"e","x":4.15,"y":6.8},{"s":"e","x":4.19,"y":7},{"s":"e","x":4.23,"y":6.9},{"s":"e","x":4.27,"y":7.1},{"s":"e","x":4.31,"y":6.9},{"s":"e","x":4.35,"y":7},{"s":"e","x":4.4,"y":6.8},{"s":"e","x":4.45,"y":6.9},{"s":"e","x":4.5,"y":6.6},{"s":"e","x":4.55,"y":6.7},{"s":"e","x":4.6,"y":6.5},{"s":"e","x":4.64,"y":6.6},
{"s":"f","x":0,"y":0},{"s":"f","x":0.03,"y":6.2},{"s":"f","x":0.07,"y":11.5},{"s":"f","x":0.09,"y":16},{"s":"f","x":0.115,"y":20.6},{"s":"f","x":0.14,"y":21.6},{"s":"f","x":0.16,"y":22.8},{"s":"f","x":0.18,"y":26},{"s":"f","x":0.2,"y":28.4},{"s":"f","x":0.22,"y":30.8},{"s":"f","x":0.24,"y":33.3},{"s":"f","x":0.25,"y":35.9},{"s":"f","x":0.27,"y":37},{"s":"f","x":0.285,"y":39.8},{"s":"f","x":0.3,"y":40.2},{"s":"f","x":0.31,"y":38.6},{"s":"f","x":0.325,"y":39.2},{"s":"f","x":0.34,"y":38.3},{"s":"f","x":0.35,"y":39.8},{"s":"f","x":0.365,"y":37.8},{"s":"f","x":0.38,"y":36.2},{"s":"f","x":0.39,"y":35.5},{"s":"f","x":0.4,"y":34.4},{"s":"f","x":0.41,"y":35.2},{"s":"f","x":0.42,"y":35.9},{"s":"f","x":0.43,"y":31.8},{"s":"f","x":0.44,"y":35},{"s":"f","x":0.46,"y":33.6},{"s":"f","x":0.48,"y":34.5},{"s":"f","x":0.49,"y":33.9},{"s":"f","x":0.51,"y":34.8},{"s":"f","x":0.525,"y":33.8},{"s":"f","x":0.535,"y":30.8},{"s":"f","x":0.555,"y":34.8},{"s":"f","x":0.58,"y":34.2},{"s":"f","x":0.6,"y":34.9},{"s":"f","x":0.62,"y":33.9},{"s":"f","x":0.64,"y":34.6},{"s":"f","x":0.66,"y":33.8},{"s":"f","x":0.68,"y":34.7},{"s":"f","x":0.7,"y":34.2},{"s":"f","x":0.72,"y":35.1},{"s":"f","x":0.74,"y":34.2},{"s":"f","x":0.77,"y":34.7},{"s":"f","x":0.79,"y":33.9},{"s":"f","x":0.82,"y":34.8},{"s":"f","x":0.84,"y":34.1},{"s":"f","x":0.86,"y":35.2},{"s":"f","x":0.88,"y":34.3},{"s":"f","x":0.91,"y":34.7},{"s":"f","x":0.93,"y":33.9},{"s":"f","x":0.96,"y":34.5},{"s":"f","x":0.99,"y":34},{"s":"f","x":1.01,"y":34.6},{"s":"f","x":1.02,"y":31.6},{"s":"f","x":1.04,"y":34.3},{"s":"f","x":1.06,"y":28.5},{"s":"f","x":1.07,"y":33.6},{"s":"f","x":1.09,"y":34.2},{"s":"f","x":1.11,"y":33.4},{"s":"f","x":1.12,"y":30.8},{"s":"f","x":1.14,"y":33.5},{"s":"f","x":1.16,"y":27.6},{"s":"f","x":1.18,"y":33.8},{"s":"f","x":1.2,"y":34.4},{"s":"f","x":1.22,"y":27},{"s":"f","x":1.23,"y":32.8},{"s":"f","x":1.25,"y":33.6},{"s":"f","x":1.27,"y":26.1},{"s":"f","x":1.28,"y":32.5},{"s":"f","x":1.3,"y":32.9},{"s":"f","x":1.32,"y":28.5},{"s":"f","x":1.34,"y":21.6},{"s":"f","x":1.35,"y":31.2},{"s":"f","x":1.37,"y":32.5},{"s":"f","x":1.39,"y":31.4},{"s":"f","x":1.41,"y":32.3},{"s":"f","x":1.43,"y":23.5},{"s":"f","x":1.44,"y":31.6},{"s":"f","x":1.46,"y":32.2},{"s":"f","x":1.48,"y":23.2},{"s":"f","x":1.49,"y":31.8},{"s":"f","x":1.51,"y":32.4},{"s":"f","x":1.53,"y":30.5},{"s":"f","x":1.55,"y":32},{"s":"f","x":1.57,"y":31.2},{"s":"f","x":1.59,"y":31.9},{"s":"f","x":1.61,"y":31},{"s":"f","x":1.62,"y":17.8},{"s":"f","x":1.64,"y":29.4},{"s":"f","x":1.67,"y":28.9},{"s":"f","x":1.7,"y":29.4},{"s":"f","x":1.72,"y":28.6},{"s":"f","x":1.75,"y":29.2},{"s":"f","x":1.77,"y":26.5},{"s":"f","x":1.79,"y":29},{"s":"f","x":1.82,"y":28.7},{"s":"f","x":1.84,"y":29.1},{"s":"f","x":1.86,"y":26.4},{"s":"f","x":1.88,"y":25.6},{"s":"f","x":1.9,"y":27.2},{"s":"f","x":1.92,"y":25},{"s":"f","x":1.94,"y":26.8},{"s":"f","x":1.96,"y":25.4},{"s":"f","x":1.97,"y":13.6},{"s":"f","x":1.99,"y":27.3},{"s":"f","x":2.01,"y":26.6},{"s":"f","x":2.03,"y":22},{"s":"f","x":2.05,"y":27},{"s":"f","x":2.07,"y":26.2},{"s":"f","x":2.09,"y":21},{"s":"f","x":2.11,"y":19.3},{"s":"f","x":2.13,"y":26.5},{"s":"f","x":2.15,"y":25.8},{"s":"f","x":2.17,"y":26.3},{"s":"f","x":2.19,"y":22.5},{"s":"f","x":2.21,"y":25.6},{"s":"f","x":2.23,"y":16.7},{"s":"f","x":2.25,"y":25.2},{"s":"f","x":2.27,"y":24},{"s":"f","x":2.3,"y":23.6},{"s":"f","x":2.33,"y":23.8},{"s":"f","x":2.36,"y":23.1},{"s":"f","x":2.39,"y":23.4},{"s":"f","x":2.42,"y":22.8},{"s":"f","x":2.45,"y":22.9},{"s":"f","x":2.48,"y":22.3},{"s":"f","x":2.51,"y":22.5},{"s":"f","x":2.54,"y":21.9},{"s":"f","x":2.56,"y":17},{"s":"f","x":2.58,"y":21.7},{"s":"f","x":2.61,"y":21.2},{"s":"f","x":2.64,"y":21.4},{"s":"f","x":2.67,"y":20.7},{"s":"f","x":2.7,"y":20.9},{"s":"f","x":2.73,"y":20.3},{"s":"f","x":2.76,"y":20.5},{"s":"f","x":2.79,"y":19.8},{"s":"f","x":2.82,"y":20},{"s":"f","x":2.85,"y":19.5},{"s":"f","x":2.88,"y":19.4},{"s":"f","x":2.9,"y":17},{"s":"f","x":2.92,"y":19},{"s":"f","x":2.94,"y":14.7},{"s":"f","x":2.96,"y":18.9},{"s":"f","x":2.98,"y":16.2},{"s":"f","x":3,"y":19},{"s":"f","x":3.03,"y":18.6},{"s":"f","x":3.05,"y":15.5},{"s":"f","x":3.07,"y":18.7},{"s":"f","x":3.09,"y":18.4},{"s":"f","x":3.12,"y":17.2},{"s":"f","x":3.15,"y":18.3},{"s":"f","x":3.18,"y":17.5},{"s":"f","x":3.2,"y":12.4},{"s":"f","x":3.22,"y":17.9},{"s":"f","x":3.24,"y":12},{"s":"f","x":3.26,"y":17.4},{"s":"f","x":3.28,"y":10.5},{"s":"f","x":3.3,"y":17.1},{"s":"f","x":3.33,"y":16.8},{"s":"f","x":3.36,"y":17},{"s":"f","x":3.4,"y":16.6},{"s":"f","x":3.44,"y":16.7},{"s":"f","x":3.48,"y":16.2},{"s":"f","x":3.52,"y":16.4},{"s":"f","x":3.56,"y":15.9},{"s":"f","x":3.6,"y":16},{"s":"f","x":3.64,"y":15.6},{"s":"f","x":3.67,"y":15.8},{"s":"f","x":3.68,"y":15.3},{"s":"f","x":3.69,"y":5},{"s":"f","x":3.71,"y":12.5},{"s":"f","x":3.73,"y":11.8},{"s":"f","x":3.75,"y":12.7},{"s":"f","x":3.77,"y":9.5},{"s":"f","x":3.79,"y":12.3},{"s":"f","x":3.81,"y":11.8},{"s":"f","x":3.83,"y":12.6},{"s":"f","x":3.85,"y":4.8},{"s":"f","x":3.87,"y":12.2},{"s":"f","x":3.9,"y":12.6},{"s":"f","x":3.93,"y":11.9},{"s":"f","x":3.96,"y":12.4},{"s":"f","x":3.99,"y":11.8},{"s":"f","x":4.01,"y":7.5},{"s":"f","x":4.02,"y":1.8},{"s":"f","x":4.04,"y":11.9},{"s":"f","x":4.07,"y":12.5},{"s":"f","x":4.1,"y":11.7},{"s":"f","x":4.13,"y":12.3},{"s":"f","x":4.16,"y":12},{"s":"f","x":4.19,"y":12.4},{"s":"f","x":4.22,"y":11.6},{"s":"f","x":4.245,"y":1.6},{"s":"f","x":4.27,"y":10.8},{"s":"f","x":4.3,"y":10.4},{"s":"f","x":4.33,"y":10.9},{"s":"f","x":4.36,"y":10.2},{"s":"f","x":4.39,"y":10.6},{"s":"f","x":4.43,"y":3},{"s":"f","x":4.45,"y":10.2},{"s":"f","x":4.48,"y":10.3},{"s":"f","x":4.5,"y":9.8}
]},
"mark":{"type":"line","strokeWidth":1.5},
"encoding":{
"x":{"field":"x","type":"quantitative","scale":{"domain":[0,6],"nice":false,"zero":false},
 "axis":{"values":[0,1,2,3,4,5,6],"title":"Extension (mm)","titleFont":"Liberation Sans","titleFontSize":15,"titleFontWeight":"bold","titleColor":"#000","titlePadding":34,"labelFont":"Liberation Sans","labelFontSize":15,"labelColor":"#000","labelPadding":10,"tickSize":4,"tickColor":"#000","domainColor":"#000","domainWidth":1,"grid":false,"offset":-42.55,"labelFlush":false,"labelOverlap":false}},
"y":{"field":"y","type":"quantitative","scale":{"domain":[-5,50],"nice":false,"zero":false},
 "axis":{"values":[-5,0,5,10,15,20,25,30,35,40,45,50],"title":"Load (KN)","titleFont":"Liberation Sans","titleFontSize":15,"titleFontWeight":"bold","titleColor":"#000","titlePadding":6,"labelFont":"Liberation Sans","labelFontSize":15,"labelColor":"#000","labelPadding":7,"tickSize":5,"tickColor":"#000","domainColor":"#404040","domainWidth":2,"grid":true,"gridColor":{"condition":{"test":"datum.value==-5","value":"#808080"},"value":"#000"},"gridWidth":1,"labelFlush":false,"labelOverlap":false}},
"color":{"field":"s","type":"nominal","scale":{"domain":["a","b","c","d","e","f"],"range":["#0000FF","#FF0000","#339966","#00FFFF","#FF99CC","#FFCC00"]},
 "legend":{"title":" ","titleOrient":"left","titlePadding":24,"orient":"none","legendX":-67,"legendY":514,"direction":"horizontal","columns":3,"gridAlign":"all","columnPadding":9,"rowPadding":11,"symbolType":"stroke","symbolSize":676,"symbolStrokeWidth":2,"labelFont":"Liberation Sans","labelFontSize":14,"labelColor":"#000","labelOffset":3,"labelLimit":500,"padding":4,"strokeColor":"#404040",
 "labelExpr":"{'a':'0.5% Fibre Mesh with Superplasticisers','b':'1.0% Fibre Mesh with Superplsticisers','c':'1.5% Fibre Mesh with Superplasticisers\"\u2800\u2800\u2800\u2800\u2800','d':'0.5% Fibre mesh','e':'1.0% Fibre Mesh','f':'1.5% Fibre Mesh'}[datum.value]"}}
}
}
